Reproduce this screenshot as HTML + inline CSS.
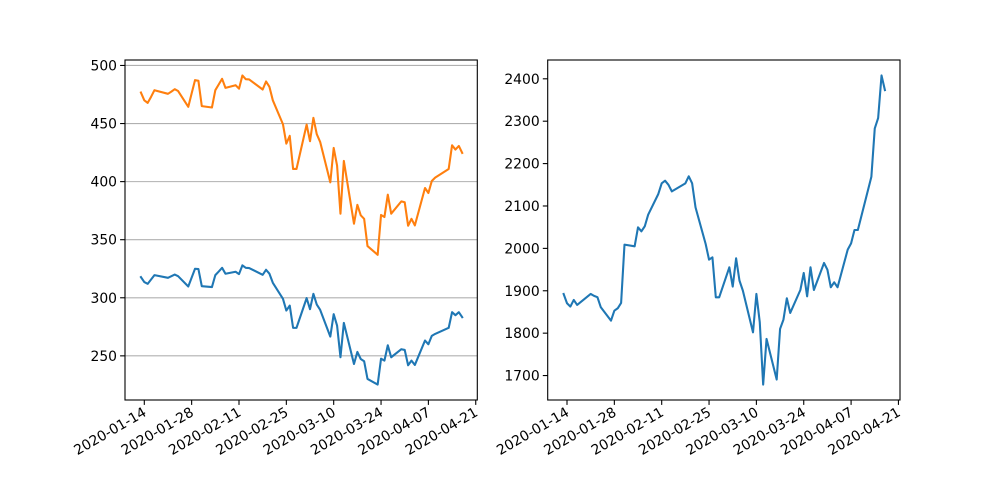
<!DOCTYPE html>
<html><head><meta charset="utf-8"><style>
body{margin:0;background:#fff}
svg{display:block;font-family:"DejaVu Sans","Liberation Sans",sans-serif}
</style></head><body>
<svg id="chart" width="1000" height="500" viewBox="0 0 1000 500"></svg>
<script>
const dates=["2020-01-13","2020-01-14","2020-01-15","2020-01-16","2020-01-17","2020-01-21","2020-01-22","2020-01-23","2020-01-24","2020-01-27","2020-01-28","2020-01-29","2020-01-30","2020-01-31","2020-02-03","2020-02-04","2020-02-05","2020-02-06","2020-02-07","2020-02-10","2020-02-11","2020-02-12","2020-02-13","2020-02-14","2020-02-18","2020-02-19","2020-02-20","2020-02-21","2020-02-24","2020-02-25","2020-02-26","2020-02-27","2020-02-28","2020-03-02","2020-03-03","2020-03-04","2020-03-05","2020-03-06","2020-03-09","2020-03-10","2020-03-11","2020-03-12","2020-03-13","2020-03-16","2020-03-17","2020-03-18","2020-03-19","2020-03-20","2020-03-23","2020-03-24","2020-03-25","2020-03-26","2020-03-27","2020-03-30","2020-03-31","2020-04-01","2020-04-02","2020-04-03","2020-04-06","2020-04-07","2020-04-08","2020-04-09","2020-04-13","2020-04-14","2020-04-15","2020-04-16","2020-04-17"];
const orangeValues=[476.7,470,467.8,473,478.7,475.6,477.5,479.6,478,464.4,476,487.4,486.8,465,463.8,478.7,483.6,488.5,480.7,483,480,491.4,488.2,488,479.3,486.2,481.6,470,449.4,432.7,439.4,410.9,410.9,449.1,434.8,454.9,440.8,434.2,399.4,429,413.8,372.4,417.8,363.8,380,371,368,344.5,337,371.3,369.5,388.8,372.4,383,382.2,362,368,362.3,394.5,390.2,400.5,403.4,410.9,431.3,427.6,430.7,424.7];
const blueValues=[317.8,313.5,312,315.7,319.5,317.2,318.6,320,318.6,309.7,317.4,325,324.7,310,309.2,319.5,322.6,325.8,320.7,322.4,320.4,327.9,325.8,325.6,319.8,324.1,320.7,312.9,299.1,289,293.3,274.1,274.1,299.7,290.2,303.4,294.2,289.6,266.6,285.9,276.1,248.8,278.4,243,253.4,247.3,245.4,230.1,225.3,247.6,245.9,259.1,248.8,255.7,255.1,241.9,245.9,242.2,263.2,260,267.2,268.9,274.1,287.6,285,287.6,283.3];
const rightValues=[1892.5,1870.5,1862.7,1878.4,1866.6,1892.5,1888,1884.9,1861,1829.6,1853,1858.7,1871.4,2008.8,2004.9,2049.6,2040.2,2052.2,2079.5,2128.3,2153.4,2159.6,2150,2134.4,2153.4,2169.9,2153.4,2096.7,2010.4,1973.4,1978.9,1884.6,1884.6,1955.3,1909.8,1976.5,1923.9,1900.3,1802,1892.5,1825.7,1678.8,1786.5,1690.6,1810,1832,1882.3,1847.7,1901.8,1942,1886.9,1955.3,1901.8,1965.5,1949.8,1908.3,1920,1908.3,1997,2011.9,2043.4,2043.4,2169,2282.9,2307.4,2407.9,2373.3];
const xTickLabels=["2020-01-14","2020-01-28","2020-02-11","2020-02-25","2020-03-10","2020-03-24","2020-04-07","2020-04-21"];
const leftYTicks=[250,300,350,400,450,500];
const rightYTicks=[1700,1800,1900,2000,2100,2200,2300,2400];

const svg=document.getElementById('chart');
const NS='http://www.w3.org/2000/svg';
function mk(tag,attrs,parent){const e=document.createElementNS(NS,tag);for(const k in attrs)e.setAttribute(k,attrs[k]);(parent||svg).appendChild(e);return e;}
const day=d=>Date.parse(d+"T00:00:00Z")/86400000;
const d0=day("2020-01-14");
const B=400;
function drawAxes(L,R,series,colors,yTicks,grid,prefix){
  const xs=d=>L+19.3+(day(d)-d0)*3.382;
  let all=[].concat(...series);let mn=Math.min(...all),mx=Math.max(...all);const pad=(mx-mn)*0.05;mn-=pad;mx+=pad;
  const ys=v=>B-(v-mn)/(mx-mn)*(B-60);
  const g=mk('g',{});
  
  
  if(grid){yTicks.forEach(v=>{const l=mk('line',{x1:L,x2:R,y1:ys(v),y2:ys(v),stroke:'#b0b0b0','stroke-width':1.1},g);
    
    });}
  series.forEach((s,i)=>{const p=mk('polyline',{points:s.map((v,j)=>xs(dates[j]).toFixed(2)+','+ys(v).toFixed(2)).join(' '),fill:'none',stroke:colors[i],'stroke-width':2.08,'stroke-linejoin':'round','stroke-linecap':'square'},g);
    
    });
  const fr=mk('rect',{x:L,y:60,width:R-L,height:B-60,fill:'none',stroke:'#000','stroke-width':1.1},g);
  
  
  yTicks.forEach(v=>{const y=ys(v);mk('line',{x1:L-4.9,x2:L,y1:y,y2:y,stroke:'#000','stroke-width':1.1},g);
    const t=mk('text',{x:L-8,y:y+5,'text-anchor':'end','font-size':13.9,fill:'#000'},g);t.textContent=v;
    
    });
  xTickLabels.forEach(d=>{const x=xs(d);mk('line',{x1:x,x2:x,y1:B,y2:B+4.9,stroke:'#000','stroke-width':1.1},g);
    const t=mk('text',{x:0,y:0,'text-anchor':'end','font-size':13.9,fill:'#000',transform:`translate(${x+3},${B+15}) rotate(-30)`},g);t.textContent=d;
    
    });
}
drawAxes(125,477.3,[blueValues,orangeValues],['#1f77b4','#ff7f0e'],leftYTicks,true,'left');
drawAxes(547.7,900,[rightValues],['#1f77b4'],rightYTicks,false,'right');
</script>
</body></html>
